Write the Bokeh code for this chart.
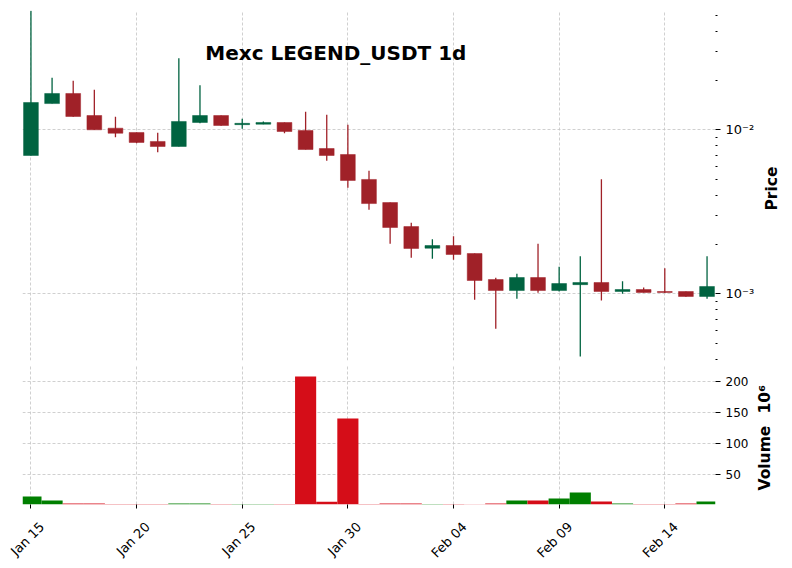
import math
from bokeh.plotting import figure
from bokeh.layouts import column
from bokeh.models import (Range1d, FixedTicker, CustomJSTickFormatter, Label, Grid,
                          LinearAxis, ColumnDataSource)
from bokeh.embed import file_html
from bokeh.resources import INLINE

# ---------------- data ----------------
dates = ["Jan 15", "Jan 16", "Jan 17", "Jan 18", "Jan 19", "Jan 20", "Jan 21", "Jan 22",
         "Jan 23", "Jan 24", "Jan 25", "Jan 26", "Jan 27", "Jan 28", "Jan 29", "Jan 30",
         "Jan 31", "Feb 01", "Feb 02", "Feb 03", "Feb 04", "Feb 05", "Feb 06", "Feb 07",
         "Feb 08", "Feb 09", "Feb 10", "Feb 11", "Feb 12", "Feb 13", "Feb 14", "Feb 15",
         "Feb 16"]
opens = [0.00697, 0.01445, 0.01665, 0.01222, 0.01023, 0.00963, 0.00849, 0.00791,
         0.01108, 0.01222, 0.01075, 0.01082, 0.01108, 0.00990, 0.00769, 0.00707,
         0.00498, 0.00360, 0.00257, 0.001897, 0.00197, 0.001761, 0.001222, 0.001047,
         0.001257, 0.001047, 0.001137, 0.001172, 0.001033, 0.001062, 0.001033, 0.001033,
         0.000963]
highs = [0.0532, 0.02075, 0.01989, 0.01754, 0.01200, 0.00963, 0.00959, 0.02733,
         0.01871, 0.01222, 0.01167, 0.01124, 0.01108, 0.01288, 0.01235, 0.01073,
         0.00562, 0.00360, 0.00271, 0.002153, 0.002245, 0.001761, 0.001252, 0.001324,
         0.002018, 0.001460, 0.001695, 0.00500, 0.001194, 0.001093, 0.001432, 0.001033,
         0.001695]
lows = [0.00697, 0.01445, 0.01200, 0.01000, 0.00901, 0.00829, 0.00730, 0.00791,
        0.01097, 0.01060, 0.01014, 0.01082, 0.00953, 0.00758, 0.00647, 0.00443,
        0.00325, 0.00202, 0.001658, 0.001635, 0.001612, 0.000919, 0.000612, 0.000932,
        0.001014, 0.001033, 0.000415, 0.000910, 0.001000, 0.001019, 0.001010, 0.000960,
        0.000932]
closes = [0.01467, 0.01665, 0.01205, 0.01000, 0.00953, 0.00837, 0.00791, 0.01124,
          0.01222, 0.01062, 0.01095, 0.01108, 0.00976, 0.00758, 0.00697, 0.00491,
          0.00355, 0.002536, 0.00189, 0.00197, 0.001737, 0.001205, 0.001047, 0.001257,
          0.001047, 0.001155, 0.001172, 0.001033, 0.001062, 0.001019, 0.001019, 0.000963,
          0.001108]
volumes_m = [15.0, 8.5, 3.8, 3.8, 0.8, 0.6, 0.9, 3.8,
             3.8, 0.7, 0.3, 0.2, 1.0, 208.5, 6.4, 140.8,
             1.2, 3.8, 3.8, 0.5, 1.0, 1.5, 3.8, 8.5,
             8.5, 11.8, 21.5, 7.0, 3.8, 1.2, 0.8, 3.8,
             7.0]
tick_days = [0, 5, 10, 15, 20, 25, 30]
tick_labels = ["Jan 15", "Jan 20", "Jan 25", "Jan 30", "Feb 04", "Feb 09", "Feb 14"]
vol_ticks = [50, 100, 150, 200]
title_text = "Mexc LEGEND_USDT 1d"
price_label = "Price"
volume_label = "Volume"
volume_scale = "10\u2076"

# ---------------- styles / placement ----------------
UP, DOWN = "#006340", "#a02128"
VUP, VDOWN = "#007f00", "#d50d18"
GRID = "#c4c4c4"
FONT = "DejaVu Sans"
LABEL_SHIFT = 0.52        # rotated date labels are centred on their tick
PRICE_LABEL_AT = 0.00322  # where the rotated "Price" text starts (bottom end)
VOL_LABEL_AT = 24.7       # where the rotated "Volume" text starts
VOL_SCALE_AT = 149.0      # where the rotated "10^6" text starts

idx = list(range(len(dates)))
up = [c >= o for o, c in zip(opens, closes)]
src = ColumnDataSource(dict(
    x=idx,
    high=highs, low=lows,
    top=[max(o, c) for o, c in zip(opens, closes)],
    bottom=[min(o, c) for o, c in zip(opens, closes)],
    color=[UP if u else DOWN for u in up],
    vol=volumes_m,
    vcolor=[VUP if u else VDOWN for u in up],
))

xr = Range1d(-0.4, 32.4)


def style_axis(ax, size):
    ax.axis_line_color = None
    ax.major_tick_line_color = "black"
    ax.minor_tick_line_color = "black"
    ax.major_tick_in = 0
    ax.minor_tick_in = 0
    ax.major_label_text_font = FONT
    ax.major_label_text_font_size = size
    ax.major_label_text_color = "black"


def title_axis(fig, positions, texts, size, standoff):
    """A tick-less right axis whose rotated tick labels act as the axis title."""
    ax = LinearAxis(ticker=FixedTicker(ticks=positions, minor_ticks=[]))
    ax.formatter = CustomJSTickFormatter(args=dict(pos=positions, txt=texts), code="""
let best = 0;
for (let i = 0; i < pos.length; i++) {
  if (Math.abs(pos[i] - tick) < Math.abs(pos[best] - tick)) best = i;
}
return txt[best];
""")
    style_axis(ax, size)
    ax.major_tick_out = 0
    ax.minor_tick_out = 0
    ax.major_tick_line_color = None
    ax.minor_tick_line_color = None
    ax.major_label_text_font_style = "bold"
    ax.major_label_orientation = math.pi / 2
    ax.major_label_standoff = standoff
    fig.add_layout(ax, "right")
    return ax


# ---------------- price panel ----------------
p = figure(x_range=xr, y_range=Range1d(0.000392, 0.05338), y_axis_type="log",
           y_axis_location="right", x_axis_location=None,
           frame_width=693, frame_height=350,
           min_border_left=22, min_border_top=10, min_border_bottom=2, min_border_right=8,
           output_backend="svg", toolbar_location=None,
           background_fill_color="white", border_fill_color="white")
p.outline_line_color = None

minor = [4e-4, 5e-4, 6e-4, 7e-4, 8e-4, 9e-4,
         2e-3, 3e-3, 4e-3, 5e-3, 6e-3, 7e-3, 8e-3, 9e-3,
         2e-2, 3e-2, 4e-2, 5e-2]
ya = p.yaxis[0]
ya.ticker = FixedTicker(ticks=[1e-3, 1e-2], minor_ticks=minor)
ya.formatter = CustomJSTickFormatter(code="""
const e = Math.round(Math.log10(tick));
const sup = {"-1": "\\u207b\\u00b9", "-2": "\\u207b\\u00b2", "-3": "\\u207b\\u00b3", "-4": "\\u207b\\u2074"};
return "10" + sup[String(e)];
""")
style_axis(ya, "13px")
ya.major_tick_out = 5
ya.minor_tick_out = 2
title_axis(p, [PRICE_LABEL_AT], [price_label], "15.5px", 15)

p.ygrid.grid_line_color = GRID
p.ygrid.grid_line_dash = "3 2"
p.ygrid.grid_line_width = 0.8
p.xgrid.visible = False
p.add_layout(Grid(dimension=0, ticker=FixedTicker(ticks=tick_days), grid_line_color=GRID,
                  grid_line_dash="3 2", grid_line_width=0.8))

p.segment(x0="x", y0="low", x1="x", y1="high", source=src, line_color="color", line_width=1.3)
p.vbar(x="x", width=0.7, top="top", bottom="bottom", source=src,
       fill_color="color", line_color="color", line_width=0.5)

p.add_layout(Label(x=14.43, y=0.02947, text=title_text, text_align="center",
                   text_baseline="alphabetic", text_font=FONT, text_font_style="bold",
                   text_font_size="20px", text_color="black"))

# ---------------- volume panel ----------------
v = figure(x_range=xr, y_range=Range1d(2.1, 227.9), y_axis_location="right",
           frame_width=693, frame_height=140,
           min_border_left=22, min_border_top=2, min_border_right=8,
           output_backend="svg", toolbar_location=None,
           background_fill_color="white", border_fill_color="white")
v.outline_line_color = None
v.vbar(x="x", width=1.0, top="vol", bottom=0, source=src,
       fill_color="vcolor", line_color=None)

vy = v.yaxis[0]
vy.ticker = FixedTicker(ticks=vol_ticks, minor_ticks=[])
style_axis(vy, "12px")
vy.major_tick_out = 5
vy.minor_tick_out = 0
title_axis(v, [VOL_LABEL_AT, VOL_SCALE_AT], [volume_label, volume_scale], "15.5px", 14)

# tick marks at the dates (no labels)
vx = v.xaxis[0]
vx.ticker = FixedTicker(ticks=tick_days, minor_ticks=[])
style_axis(vx, "12px")
vx.major_tick_out = 4
vx.minor_tick_out = 0
vx.major_label_text_font_size = "0px"
vx.major_label_standoff = 0
vx.formatter = CustomJSTickFormatter(code="return '';")

# rotated date labels, placed centred under their ticks
lab_ticks = [d + LABEL_SHIFT for d in tick_days]
lx = LinearAxis(ticker=FixedTicker(ticks=lab_ticks, minor_ticks=[]))
lx.formatter = CustomJSTickFormatter(args=dict(days=tick_days, labels=tick_labels,
                                               shift=LABEL_SHIFT), code="""
const i = days.indexOf(Math.round(tick - shift));
return i >= 0 ? labels[i] : "";
""")
style_axis(lx, "13px")
lx.major_tick_out = 0
lx.major_tick_line_color = None
lx.minor_tick_out = 0
lx.major_label_orientation = math.pi / 4
lx.major_label_standoff = 16
v.add_layout(lx, "below")

for g in (v.xgrid[0], v.ygrid[0]):
    g.grid_line_color = GRID
    g.grid_line_dash = "3 2"
    g.grid_line_width = 0.8
v.xgrid[0].ticker = FixedTicker(ticks=tick_days)

layout = column(p, v, spacing=0)
with open("out.html", "w", encoding="utf-8") as f:
    f.write(file_html(layout, INLINE))
